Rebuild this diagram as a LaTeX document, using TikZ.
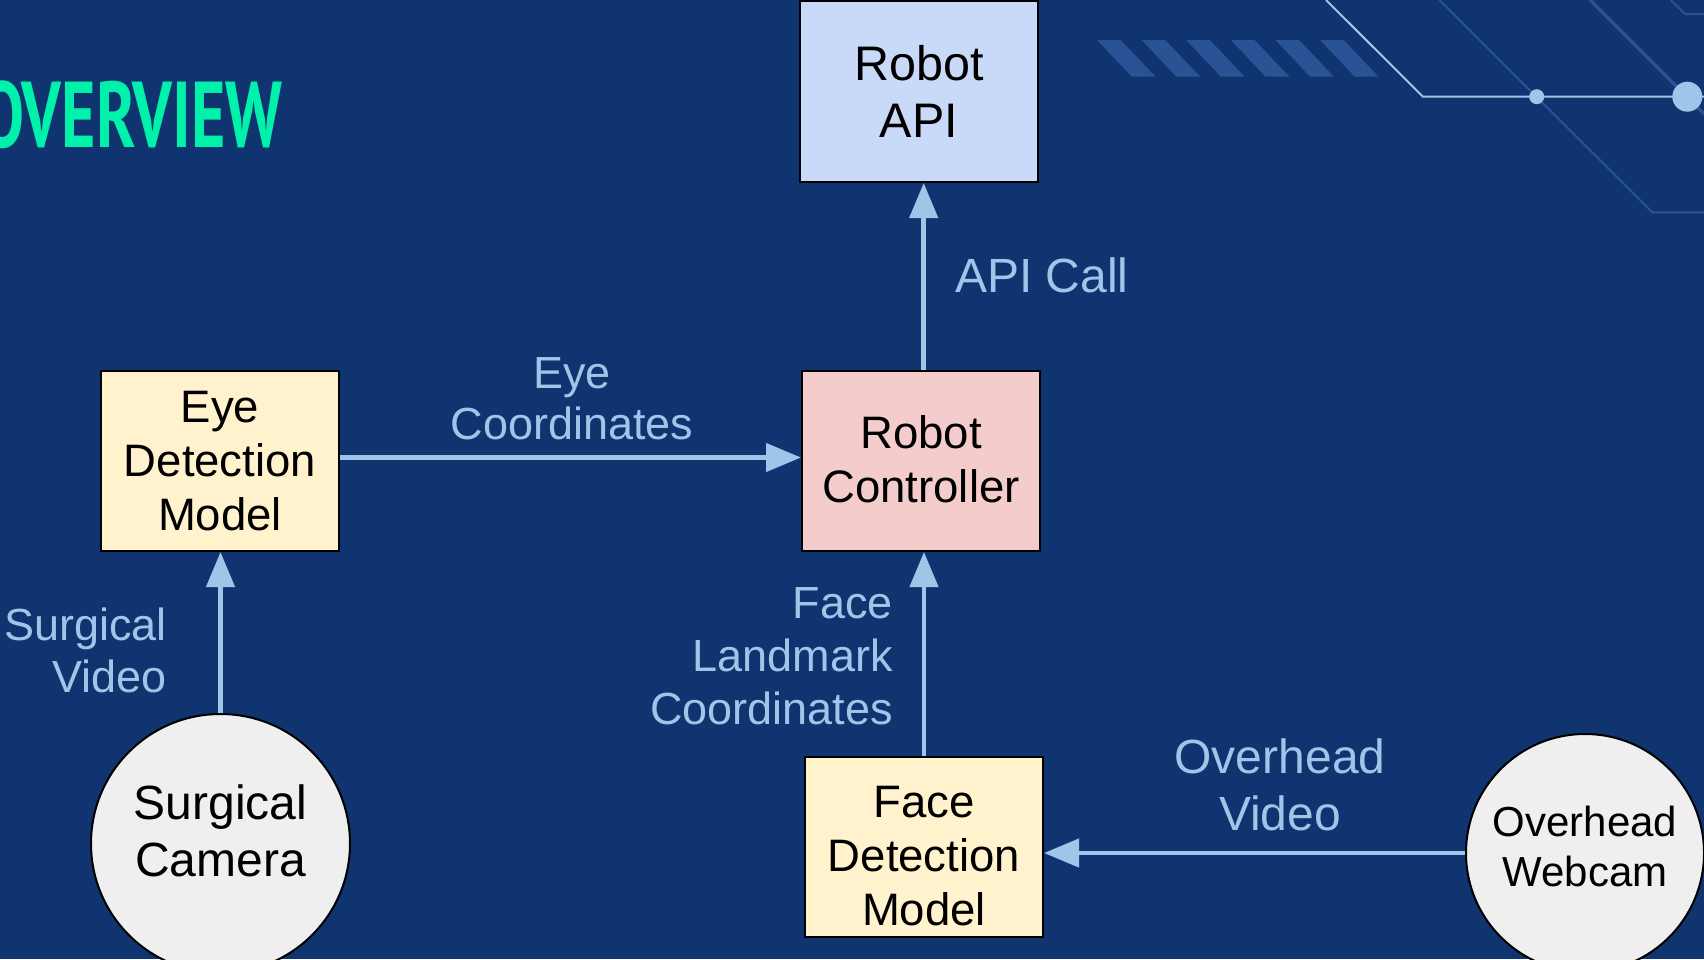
\documentclass[tikz,border=0pt]{standalone}
\usepackage{fontspec}
\usepackage{graphicx}
\setmainfont{Liberation Sans}
\newfontfamily\titlefont{PT Sans}
\usetikzlibrary{arrows.meta}
\definecolor{bgc}{RGB}{15,52,112}
\definecolor{stripec}{RGB}{42,83,150}
\definecolor{lightc}{RGB}{159,197,232}
\definecolor{titlec}{RGB}{0,241,170}
\definecolor{apifill}{RGB}{201,218,248}
\definecolor{ctrlfill}{RGB}{244,204,204}
\definecolor{detfill}{RGB}{255,242,204}
\definecolor{camfill}{RGB}{239,239,239}
\tikzset{
  boxnode/.style={draw=black, line width=2pt, inner sep=0pt, minimum width=238pt, minimum height=180pt, align=center, font=\fontsize{45.5}{54}\selectfont},
  camnode/.style={draw=black, line width=2pt, circle, inner sep=0pt, fill=camfill, align=center},
  lbl/.style={text=lightc, inner sep=0pt, font=\fontsize{45}{52}\selectfont},
  flow/.style={draw=lightc, line width=4.5pt, -{Triangle[length=35pt,width=28pt]}},
  deco/.style={draw=stripec, line width=2pt},
}
\begin{document}
\begin{tikzpicture}[x=1pt,y=-1pt]
\useasboundingbox (0,0) rectangle (1704,959);
\clip (0,0) rectangle (1704,959);
\fill[bgc] (0,0) rectangle (1704,959);
% decoration
\foreach \k in {0,...,5}{
  \fill[stripec] ({1097.1+44.6*\k},40) -- ({1120.6+44.6*\k},40) -- ({1155.6+44.6*\k},76.7) -- ({1131.7+44.6*\k},76.7) -- cycle;
}
\draw[deco] (1439.3,0) -- (1652.3,212.3) -- (1704,212.3);
\draw[deco, line width=3.5pt] (1590,0) -- (1704,114);
\draw[deco] (1670.7,0) -- (1685,14) -- (1704,14);
\draw[draw=lightc, line width=2pt] (1326,0) -- (1423,96.7) -- (1704,96.7);
\fill[lightc] (1536.7,96.7) circle (7.5);
\fill[lightc] (1687.3,96.7) circle (15);
% title
\node[anchor=south west, inner sep=0pt, text=titlec] (title) at (-20,149)
  {\resizebox*{302pt}{68pt}{\titlefont\bfseries OVERVIEW}};
% nodes
\node[boxnode, fill=apifill, minimum height=181pt, font=\fontsize{48.5}{57}\selectfont] (api) at (919,91.5) {Robot\\API};
\node[boxnode, fill=ctrlfill, text depth=4pt] (ctrl) at (921,461) {Robot\\Controller};
\node[boxnode, fill=detfill] (eye) at (220,461) {Eye\\Detection\\Model};
\node[boxnode, fill=detfill, text height=158pt] (face) at (924,847) {Face\\Detection\\Model};
\node[camnode, minimum size=259pt, font=\fontsize{48}{57}\selectfont, text depth=26pt] (cam) at (220.5,843.5) {Surgical\\Camera};
\node[camnode, minimum size=238pt, font=\fontsize{42}{50}\selectfont, text depth=13pt] (web) at (1585,853) {Overhead\\Webcam};
% connectors
\draw[flow] ([xshift=2.7pt]ctrl.north) -- ([xshift=2.7pt]ctrl.north |- api.south);
\draw[flow] ([yshift=3.5pt]eye.east) -- ([yshift=3.5pt]eye.east -| ctrl.west);
\draw[flow] (face.north) -- (face.north |- ctrl.south);
\draw[flow] (cam.north) -- (cam.north |- eye.south);
\draw[flow] (web.west) -- (web.west -| face.east);
% labels
\node[lbl, anchor=base west, font=\fontsize{48}{56}\selectfont] (lapi) at (955,292.3) {API Call};
\node[lbl, anchor=north, align=center, font=\fontsize{45}{51}\selectfont] (leye) at (572,357) {Eye\\Coordinates};
\node[lbl, anchor=north east, align=right, font=\fontsize{45}{53}\selectfont] (lface) at (893,587.7) {Face\\Landmark\\Coordinates};
\node[lbl, anchor=north east, align=right, font=\fontsize{45}{52}\selectfont] (lsurg) at (167,608) {Surgical\\Video};
\node[lbl, anchor=north, align=center, font=\fontsize{48}{57}\selectfont] (lover) at (1280,739) {Overhead\\Video};
\end{tikzpicture}
\end{document}
